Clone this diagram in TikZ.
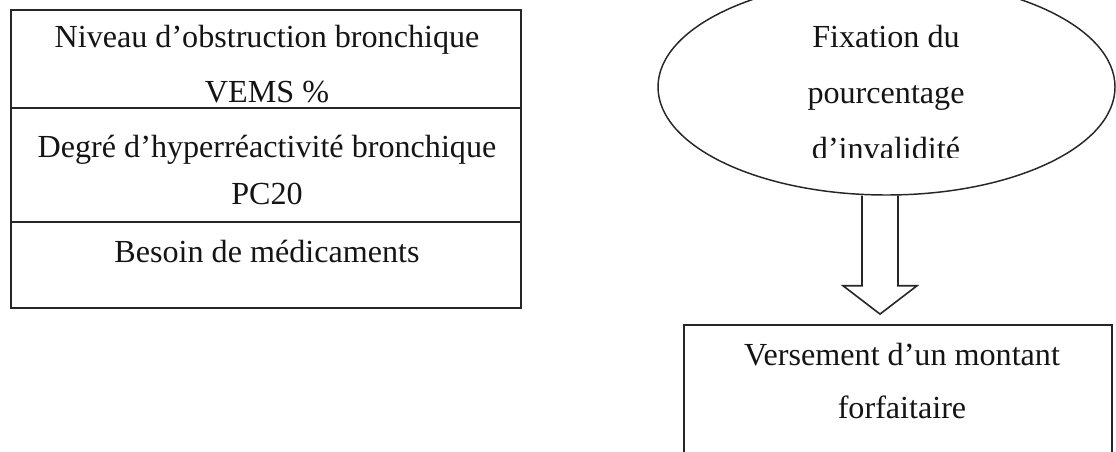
\documentclass[tikz,border=0pt]{standalone}
\usepackage{fontspec}
\setmainfont{Liberation Serif}
\usetikzlibrary{shapes.geometric,calc}
\begin{document}
\begin{tikzpicture}[x=0.75pt,y=-0.75pt,
  cell/.style={draw=black!85, line width=1.4pt, rectangle, inner sep=0pt},
  txt/.style={anchor=base, inner sep=0pt, font=\fontsize{24.1}{28}\selectfont, text=black!92},
  oval/.style={draw=black!85, line width=1.1pt, ellipse, inner sep=0pt, minimum width=342.75pt, minimum height=162pt},
  blockarrow/.style={draw=black!85, line width=1.2pt, line join=miter}]
\clip (0,0) rectangle (1116,451);
% left table
\node[cell, minimum width=382.5pt, minimum height=73.5pt] (r1) at (266,59) {};
\node[cell, minimum width=382.5pt, minimum height=85.5pt] (r2) at (266,165) {};
\node[cell, minimum width=382.5pt, minimum height=64.5pt] (r3) at (266,265) {};
\node[txt] (t1a) at (267,47) {Niveau d’obstruction bronchique};
\node[txt] (t1b) at (267,102) {VEMS \%};
\node[txt] (t2a) at (267,157) {Degré d’hyperréactivité bronchique};
\node[txt] (t2b) at (267,204) {PC20};
\node[txt] (t3a) at (267,262) {Besoin de médicaments};
% ellipse
\node[oval] (ell) at (886.5,87) {};
\node[txt] (e1) at (886,47) {Fixation du};
\node[txt] (e2) at (886,103) {pourcentage};
\begin{scope}
\clip (600,0) rectangle (1116,157);
\node[txt] (e3) at (886,159) {d’invalidité};
\end{scope}
% bottom box
\node[cell, minimum width=321pt, minimum height=112.5pt] (vers) at (898,400) {};
\node[txt] (v1) at (902,365) {Versement d’un montant};
\node[txt] (v2) at (902,418) {forfaitaire};
% block arrow
\draw[blockarrow] ($(ell.south)+(-24.5,0)$) -- ($(ell.south)+(-24.5,90)$)
  -- ($(ell.south)+(-43.5,90)$) -- ($(vers.north)+(-18,-10)$)
  -- ($(ell.south)+(30.5,90)$) -- ($(ell.south)+(11.5,90)$)
  -- ($(ell.south)+(11.5,0)$);
\end{tikzpicture}
\end{document}
